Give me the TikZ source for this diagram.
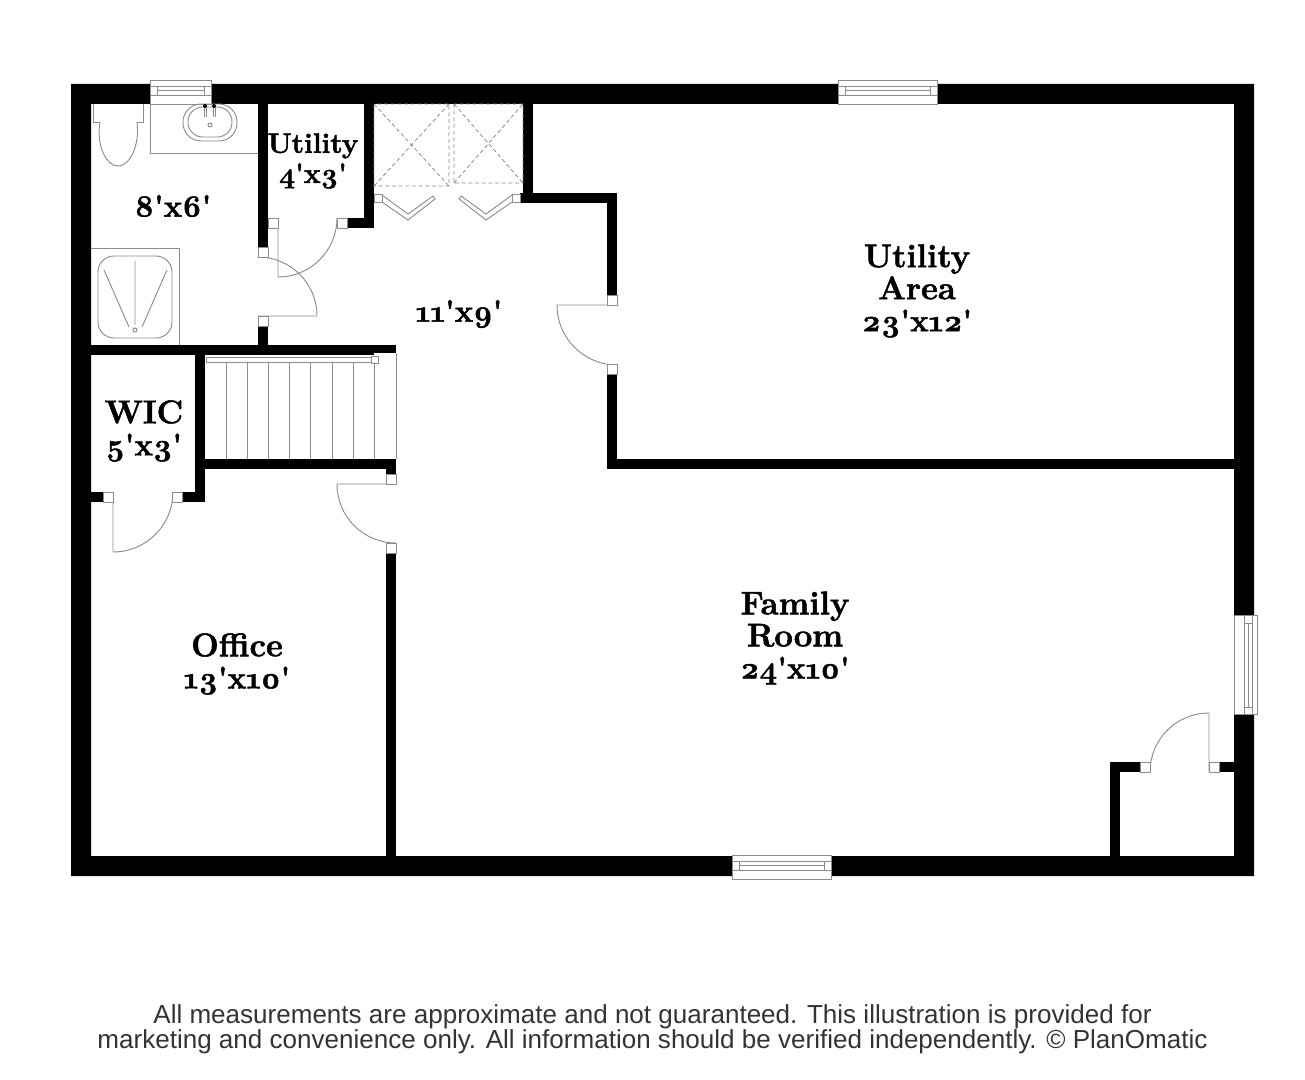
\documentclass[tikz,border=0pt]{standalone}
\usepackage{fontspec}
\setmainfont{Liberation Sans}
\newfontfamily\roomfont{Latin Modern Roman}[Numbers=OldStyle,BoldFont={Latin Modern Roman/B},BoldFeatures={FakeBold=1.6}]
\usetikzlibrary{positioning}
\definecolor{linegray}{gray}{0.55}
\newcommand\dims[1]{{\fontsize{23.2}{24}\selectfont #1}}
\tikzset{
    wall/.style={fill=black,draw=none},
    fixture/.style={draw=linegray,line width=.7pt},
    jamb/.style={fixture,fill=white},
    fold/.style={draw=linegray,line width=.6pt,densely dashed},
    roomlabel/.style={align=center,inner sep=0pt,font=\roomfont\bfseries\fontsize{24.6}{24}\selectfont},
    smalllabel/.style={align=center,inner sep=0pt,font=\roomfont\bfseries\fontsize{21}{22.5}\selectfont}
}
\begin{document}
\begin{tikzpicture}[x=.75pt,y=-.75pt]
    \useasboundingbox (0,0) rectangle (1305,1080);
    % walls
    \fill[wall,even odd rule] (71,84) rectangle (1254,876) (91,104) rectangle (1234,856);
    \fill[wall] (258,104) rectangle (268,247);
    \fill[wall] (258,326) rectangle (268,345);
    \fill[wall] (91,345) rectangle (396,355);
    \fill[wall] (364,104) rectangle (374,228);
    \fill[wall] (347,218) rectangle (374,228);
    \fill[wall] (523,104) rectangle (533,203);
    \fill[wall] (520,193) rectangle (617,203);
    \fill[wall] (607,193) rectangle (617,295);
    \fill[wall] (607,374) rectangle (617,469);
    \fill[wall] (607,459) rectangle (1234,469);
    \fill[wall] (195,355) rectangle (205,502);
    \fill[wall] (205,459) rectangle (396,469);
    \fill[wall] (386,459) rectangle (396,474);
    \fill[wall] (386,553) rectangle (396,856);
    \fill[wall] (91,492) rectangle (103,502);
    \fill[wall] (182,492) rectangle (205,502);
    \fill[wall] (1110,762) rectangle (1120,856);
    \fill[wall] (1110,762) rectangle (1140,772);
    \fill[wall] (1219,762) rectangle (1234,772);
    % windows
    \foreach \xa/\xb/\ya in {150/211/80, 838/937/80, 732/831/855} {
        \draw[jamb] (\xa,\ya) rectangle (\xb,\ya+24);
        \draw[fixture] (\xa,\ya+6) rectangle (\xb,\ya+15);
        \draw[fixture] (\xa+7,\ya+6) -- (\xa+7,\ya+15) (\xb-7,\ya+6) -- (\xb-7,\ya+15);
        \draw[fixture] (\xa+7,\ya+10.5) -- (\xb-7,\ya+10.5);
    }
    \draw[jamb] (1234,615) rectangle (1257,714);
    \draw[fixture] (1244,615) rectangle (1252,714);
    \draw[fixture] (1244,623) -- (1252,623) (1244,707) -- (1252,707) (1248,623) -- (1248,707);
    % doors
    \draw[fixture] (278,218) -- (278,277) arc[start angle=90,end angle=0,radius=59];
    \draw[fixture] (258,257) arc[start angle=-90,end angle=0,radius=59] -- (258,316);
    \draw[fixture] (617,305) -- (557,305) arc[start angle=180,end angle=90,radius=60];
    \draw[fixture] (396,484) -- (337,484) arc[start angle=180,end angle=90,radius=59];
    \draw[fixture] (113,492) -- (113,552) arc[start angle=90,end angle=0,radius=60];
    \draw[fixture] (1209,772) -- (1209,713) arc[start angle=-90,end angle=-180,radius=59];
    % door jambs
    \foreach \xj/\yj in {268/218,337/218,258/247,258/316,607/295,607/364,386/474,386/543,103/492,172/492,1140/762,1209/762} {
        \draw[jamb] (\xj,\yj) rectangle (\xj+10,\yj+10);
    }
    % closet
    \draw[fold] (374,104) rectangle (449,186) (374,104) -- (449,186) (449,104) -- (374,186);
    \draw[fold] (454,104) rectangle (523,183) (454,183) -- (523,104) (454,104) -- (523,183);
    \draw[jamb] (374,194) rectangle (382,202);
    \draw[jamb] (512,194) rectangle (520,202);
    \draw[fixture] (382,202) -- (408,220) -- (435,199) -- (433,196) -- (408,214) -- (382,195);
    \draw[fixture] (512,202) -- (486,220) -- (459,199) -- (461,196) -- (486,214) -- (512,195);
    % stairs
    \fill[white] (374,353) rectangle (396,459);
    \foreach \xs in {226,247,268,289,310,332,353,374} {
        \draw[fixture] (\xs,362) -- (\xs,459);
    }
    \draw[fixture] (396,353) -- (396,459);
    \draw[jamb] (206,357) rectangle (372,362);
    \draw[jamb] (371,356) rectangle (378,363);
    % toilet
    \draw[fixture] (93,104) -- (93,122) -- (100,122) (137,122) -- (143,122) -- (143,104);
    \draw[fixture] (100,122) .. controls (96,145) and (106,166) .. (118,166) .. controls (130,166) and (140,145) .. (137,122);
    % vanity
    \draw[fixture] (150,104) -- (150,153) -- (258,153);
    \draw[fixture,rounded corners=13.5pt] (183,104) rectangle (237,141);
    \draw[fixture,rounded corners=11pt] (188,107) rectangle (232,137);
    \draw[fixture] (204,107) -- (204,117) (206,107) -- (206,117) (213,107) -- (213,117) (215,107) -- (215,117);
    \fill (205,106) circle (1.5pt) (214,106) circle (1.5pt);
    \draw[fixture] (210,125) circle (1.5pt);
    % shower
    \draw[fixture] (91,248) -- (179,248) -- (179,345);
    \draw[fixture,rounded corners=12pt] (98,256) rectangle (172,338);
    \draw[fixture] (135,261) -- (135,325) (104,270) -- (129,327) (167,270) -- (142,327);
    \draw[fixture] (135,330) circle (1.5pt);
    % rooms
    \node[roomlabel] (bath) at (173,206) {\dims{8'x6'}};
    \node[smalllabel] (utilsmall) at (313,161) {Utility\\4'x3'};
    \node[roomlabel] (hall) at (459,314) {\dims{11'x9'}};
    \node[roomlabel] (utilarea) at (917,291) {Utility\\Area\\\dims{23'x12'}};
    \node[roomlabel] (wic) at (144,431) {WIC\\\dims{5'x3'}};
    \node[roomlabel] (office) at (237,664) {Office\\\dims{13'x10'}};
    \node[roomlabel] (family) at (795,638) {Family\\Room\\\dims{24'x10'}};
    \node[align=center,inner sep=0pt,text=black!80,font=\fontsize{19.53}{18.7}\selectfont] (disclaimer) at (652.5,1029)
        {All measurements are approximate and not guaranteed. This illustration is provided for\\
         marketing and convenience only. All information should be verified independently. \textcopyright{} PlanOmatic};
\end{tikzpicture}
\end{document}
